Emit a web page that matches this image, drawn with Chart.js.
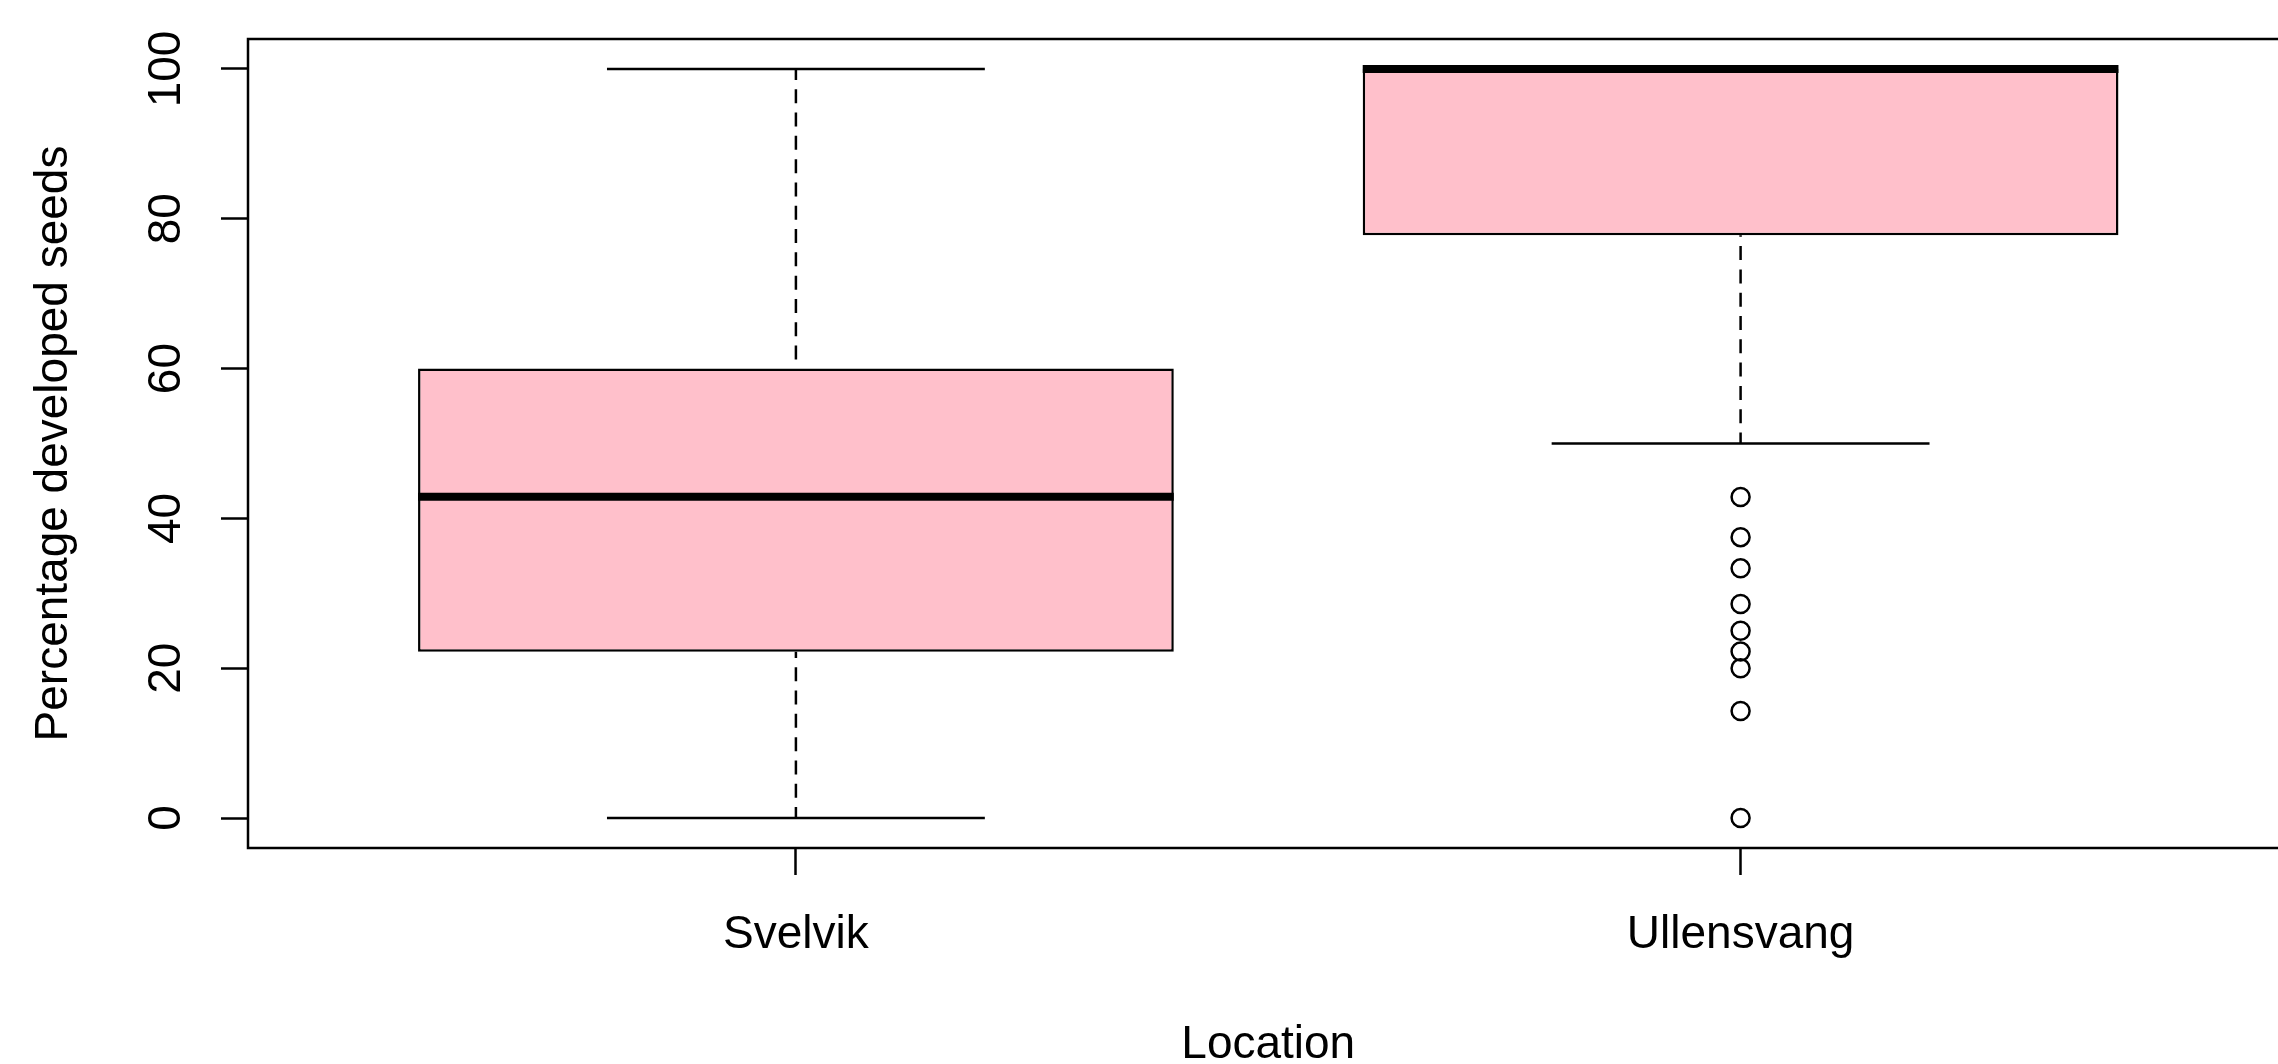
<!DOCTYPE html>
<html>
<head>
<meta charset="utf-8">
<title>Percentage developed seeds by location</title>
<script src="https://cdn.jsdelivr.net/npm/chart.js@4.4.1/dist/chart.umd.min.js"></script>
<style>
    html, body { margin: 0; padding: 0; background: #fff; overflow: hidden; }
    canvas { display: block; }
</style>
</head>
<body>
<canvas id="seedsChart" width="2300" height="1064"></canvas>
<script>
// five-number summaries per location
const categories = ['Svelvik', 'Ullensvang'];
const lowerWhisker = [0, 50];
const lowerQuartile = [22.2, 77.8];
const median = [42.9, 100];
const upperQuartile = [60, 100];
const upperWhisker = [100, 100];
const outliers = [
    [],
    [42.86, 37.5, 33.33, 28.57, 25, 22.22, 20, 14.29, 0],
];
const yTicks = [0, 20, 40, 60, 80, 100];

const boxWidth = 0.8;      // R's default boxwex
const stapleWidth = 0.4;   // staplewex 0.5 * boxwex
const pink = '#FFC0CB';
const lineW = 2.5;

Chart.defaults.font.family = '"Liberation Sans", Arial, sans-serif';
Chart.defaults.font.size = 46;
Chart.defaults.color = '#000';

const datasets = [];

datasets.push({
    type: 'bar',
    data: categories.map((c, i) => ({ x: i + 1, y: [lowerQuartile[i], upperQuartile[i]] })),
    backgroundColor: pink,
    borderColor: '#000',
    borderWidth: lineW,
    borderSkipped: false,
    barPercentage: boxWidth,
    categoryPercentage: 1,
    order: 5,
});

const segment = (points, extra) => Object.assign({
    type: 'line',
    data: points,
    borderColor: '#000',
    borderWidth: lineW,
    borderCapStyle: 'butt',
    pointRadius: 0,
    fill: false,
}, extra);

categories.forEach((c, i) => {
    const pos = i + 1;
    // whiskers, dashed from the whisker end towards the box (as R draws them)
    datasets.push(segment([{ x: pos, y: upperWhisker[i] }, { x: pos, y: upperQuartile[i] }],
        { borderDash: [14, 9.3], borderDashOffset: 3, order: 4 }));
    datasets.push(segment([{ x: pos, y: lowerWhisker[i] }, { x: pos, y: lowerQuartile[i] }],
        { borderDash: [14, 9.3], borderDashOffset: 3, order: 4 }));
    // staples
    datasets.push(segment([{ x: pos - stapleWidth / 2, y: upperWhisker[i] }, { x: pos + stapleWidth / 2, y: upperWhisker[i] }],
        { order: 3 }));
    datasets.push(segment([{ x: pos - stapleWidth / 2, y: lowerWhisker[i] }, { x: pos + stapleWidth / 2, y: lowerWhisker[i] }],
        { order: 3 }));
    // median
    datasets.push(segment([{ x: pos - boxWidth / 2, y: median[i] }, { x: pos + boxWidth / 2, y: median[i] }],
        { borderWidth: 8, order: 1 }));
});

datasets.push({
    type: 'scatter',
    data: outliers.flatMap((vals, i) => vals.map(v => ({ x: i + 1, y: v }))),
    pointStyle: 'circle',
    pointRadius: 9,
    borderWidth: lineW,
    borderColor: '#000',
    backgroundColor: 'rgba(0,0,0,0)',
    order: 0,
});

// plot frame like R's box()
const framePlugin = {
    id: 'frame',
    afterDraw(chart) {
        const { ctx, chartArea: a } = chart;
        ctx.save();
        ctx.strokeStyle = '#000';
        ctx.lineWidth = lineW;
        ctx.strokeRect(a.left, a.top, a.right - a.left, a.bottom - a.top);
        ctx.restore();
    },
};

const tickGrid = {
    offset: false,
    drawOnChartArea: false,
    drawTicks: true,
    tickLength: 27,
    tickWidth: lineW,
    tickColor: '#000',
};

new Chart(document.getElementById('seedsChart'), {
    type: 'bar',
    data: { datasets },
    plugins: [framePlugin],
    options: {
        responsive: false,
        animation: false,
        devicePixelRatio: 1,
        layout: { padding: { top: 39, right: 8, bottom: 0, left: 0 } },
        plugins: {
            legend: { display: false },
            tooltip: { enabled: false },
        },
        scales: {
            x: {
                type: 'linear',
                min: 0.42,
                max: 2.58,
                offset: false,
                afterBuildTicks: (scale) => {
                    scale.ticks = categories.map((c, i) => ({ value: i + 1 }));
                },
                afterFit: (scale) => { scale.height = 216; },
                ticks: {
                    autoSkip: false,
                    maxRotation: 0,
                    padding: 32.4,
                    callback: (value) => categories[Math.round(value) - 1],
                },
                grid: tickGrid,
                border: { display: false },
                title: {
                    display: true,
                    text: 'Location',
                    font: { size: 46, lineHeight: 0.8 },
                    padding: 0,
                },
            },
            y: {
                min: -4,
                max: 104,
                afterBuildTicks: (scale) => {
                    scale.ticks = yTicks.map(v => ({ value: v }));
                },
                afterFit: (scale) => {
                    scale.width = 248;
                    scale.paddingTop = 0;
                    scale.paddingBottom = 0;
                },
                ticks: {
                    minRotation: 90,
                    maxRotation: 90,
                    crossAlign: 'center',
                    padding: 15.6,
                },
                grid: tickGrid,
                border: { display: false },
                title: {
                    display: true,
                    text: 'Percentage developed seeds',
                    padding: { top: 27, bottom: 0 },
                },
            },
        },
    },
});
</script>
</body>
</html>
